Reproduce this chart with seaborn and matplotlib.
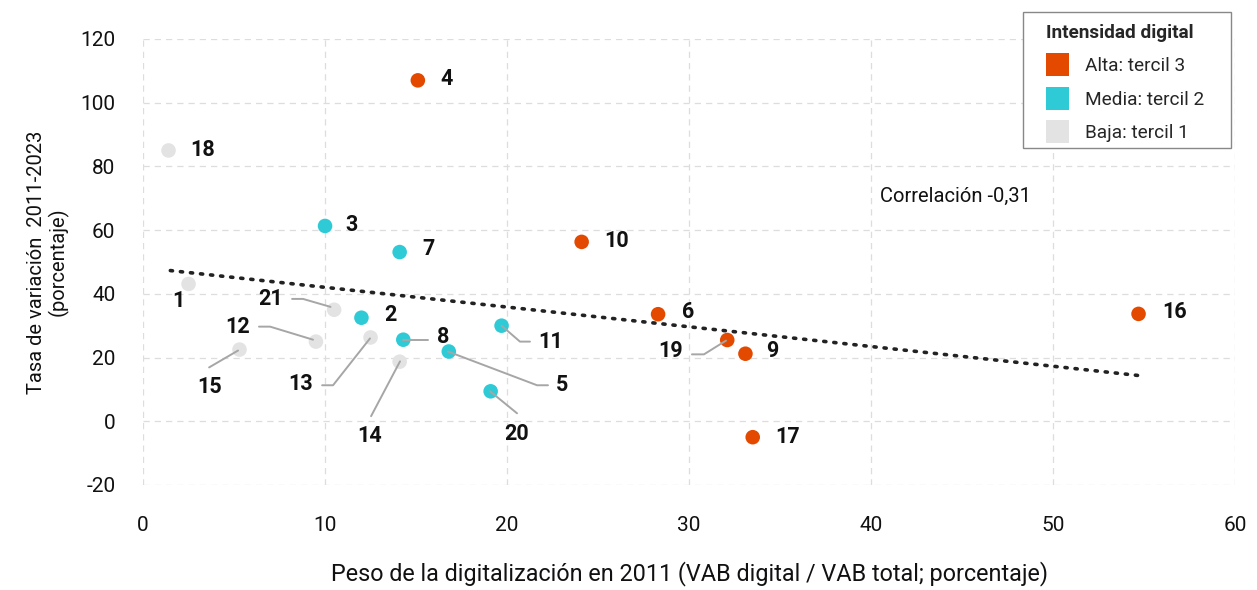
import numpy as np
import pandas as pd
import matplotlib
matplotlib.use('Agg')
import matplotlib.pyplot as plt
import matplotlib.patches as mpatches
import seaborn as sns

# Data
sector = ['1', '2', '3', '4', '5', '6', '7', '8', '9', '10', '11',
          '12', '13', '14', '15', '16', '17', '18', '19', '20', '21']
peso_2011 = [2.5, 12.0, 10.0, 15.1, 16.8, 28.3, 14.1, 14.3, 33.1, 24.1, 19.7,
             9.5, 12.5, 14.1, 5.3, 54.7, 33.5, 1.4, 32.1, 19.1, 10.5]
tasa_var = [43.1, 32.5, 61.3, 107.0, 21.9, 33.6, 53.1, 25.6, 21.2, 56.3, 30.0,
            25.0, 26.3, 18.7, 22.5, 33.7, -5.0, 85.0, 25.5, 9.4, 35.0]
intensidad = ['Baja: tercil 1', 'Media: tercil 2', 'Media: tercil 2', 'Alta: tercil 3',
              'Media: tercil 2', 'Alta: tercil 3', 'Media: tercil 2', 'Media: tercil 2',
              'Alta: tercil 3', 'Alta: tercil 3', 'Media: tercil 2', 'Baja: tercil 1',
              'Baja: tercil 1', 'Baja: tercil 1', 'Baja: tercil 1', 'Alta: tercil 3',
              'Alta: tercil 3', 'Baja: tercil 1', 'Alta: tercil 3', 'Media: tercil 2',
              'Baja: tercil 1']
niveles = ['Alta: tercil 3', 'Media: tercil 2', 'Baja: tercil 1']
colores = ['#E34A00', '#2ECBD7', '#E3E3E3']

# trend line ends
tendencia_x = [1.5, 54.8]
tendencia_y = [47.3, 14.3]

df = pd.DataFrame({'sector': sector, 'peso': peso_2011, 'tasa': tasa_var,
                   'intensidad': intensidad})

sns.set_theme(style='white')
plt.rcParams['font.family'] = ['Roboto', 'DejaVu Sans']
plt.rcParams['axes.unicode_minus'] = False

fig = plt.figure(figsize=(12.57, 5.90), dpi=100)
ax = fig.add_axes([0.1138, 0.178, 0.8687, 0.756])

ax.plot(tendencia_x, tendencia_y, linestyle=(0, (0.6, 2.2)), color='#222222',
        linewidth=2.6, dash_capstyle='round', zorder=1)

sns.scatterplot(data=df, x='peso', y='tasa', hue='intensidad', hue_order=niveles,
                palette=colores, s=110, edgecolor='none', legend=False, ax=ax, zorder=3)

# label positions (text centre) and optional leader lines
etiquetas = {
    '1': (1.92, 37.8, None), '2': (13.57, 33.4, None), '3': (11.48, 61.6, None),
    '4': (16.7, 107.5, None), '6': (29.95, 34.4, None), '7': (15.66, 54.1, None),
    '9': (34.56, 21.9, None), '10': (26.04, 56.6, None), '16': (56.7, 34.4, None),
    '17': (35.44, -5.0, None), '18': (3.3, 85.0, None),
    '21': (7.03, 38.4, [(8.19, 38.4), (8.79, 38.4), (10.3, 35.9)]),
    '12': (5.22, 29.7, [(6.37, 29.7), (6.98, 29.7), (9.34, 25.6)]),
    '13': (8.68, 11.6, [(9.84, 11.3), (10.44, 11.3), (12.47, 26.0)]),
    '8': (16.48, 26.3, [(14.3, 25.6), (15.66, 25.6)]),
    '15': (3.63, 10.9, [(3.63, 16.9), (5.22, 22.2)]),
    '5': (23.02, 11.3, [(16.75, 21.9), (21.65, 11.3), (22.25, 11.3)]),
    '14': (12.47, -4.7, [(12.53, 1.6), (14.12, 18.8)]),
    '11': (22.42, 25.0, [(19.7, 30.0), (20.71, 25.0), (21.26, 25.0)]),
    '20': (20.55, -4.1, [(19.07, 9.4), (20.55, 2.5)]),
    '19': (28.96, 21.9, [(30.16, 21.0), (30.82, 21.0), (32.03, 25.3)]),
}
for lab, (tx, ty, linea) in etiquetas.items():
    ax.text(tx, ty, lab, ha='center', va='center', fontsize=15.5, fontweight='semibold',
            color='#111111', zorder=5)
    if linea:
        xs, ys = zip(*linea)
        ax.plot(xs, ys, color='#A6A6A6', linewidth=1.4, zorder=4)

ax.text(40.5, 70.6, 'Correlación -0,31', ha='left', va='center', fontsize=14.5,
        color='#111111')

ax.set_xlim(0, 60)
ax.set_ylim(-20, 120)
ax.set_xticks(range(0, 61, 10))
ax.set_yticks(range(-20, 121, 20))
ax.grid(True, linestyle=(0, (5, 4)), color='#DDDDDD', linewidth=0.9)
ax.set_axisbelow(True)
for sp in ax.spines.values():
    sp.set_visible(False)
ax.tick_params(axis='both', labelsize=15, colors='#111111', length=0)
ax.tick_params(axis='x', pad=22)
ax.tick_params(axis='y', pad=20)

ax.set_xlabel('Peso de la digitalización en 2011 (VAB digital / VAB total; porcentaje)',
              fontsize=16.8, color='#111111', labelpad=19)
ax.set_ylabel('Tasa de variación  2011-2023\n(porcentaje)', fontsize=14.5,
              color='#111111', labelpad=8, linespacing=1.1)

# legend box drawn separately so its padding can match the reference
caja = mpatches.Rectangle((1023 / 1257, 1 - 148 / 590), 208 / 1257, 136 / 590,
                          transform=fig.transFigure, facecolor='white',
                          edgecolor='#888888', linewidth=1.0, zorder=4)
fig.patches.append(caja)

handles = [mpatches.Patch(facecolor=c, edgecolor='none', label=n)
           for n, c in zip(niveles, colores)]
leg = fig.legend(handles=handles, title='Intensidad digital', loc='upper left',
                 bbox_to_anchor=(1034 / 1257, 1 - 12 / 590), frameon=False, fontsize=13.7,
                 title_fontproperties={'weight': 'bold', 'size': 13.7},
                 handlelength=1.2, handleheight=1.45, handletextpad=0.84,
                 labelspacing=0.57, borderpad=0.65, borderaxespad=0)
leg.set_zorder(6)
leg._legend_box.align = 'left'
leg._legend_box.sep = 8

fig.savefig('out.png', dpi=100)
